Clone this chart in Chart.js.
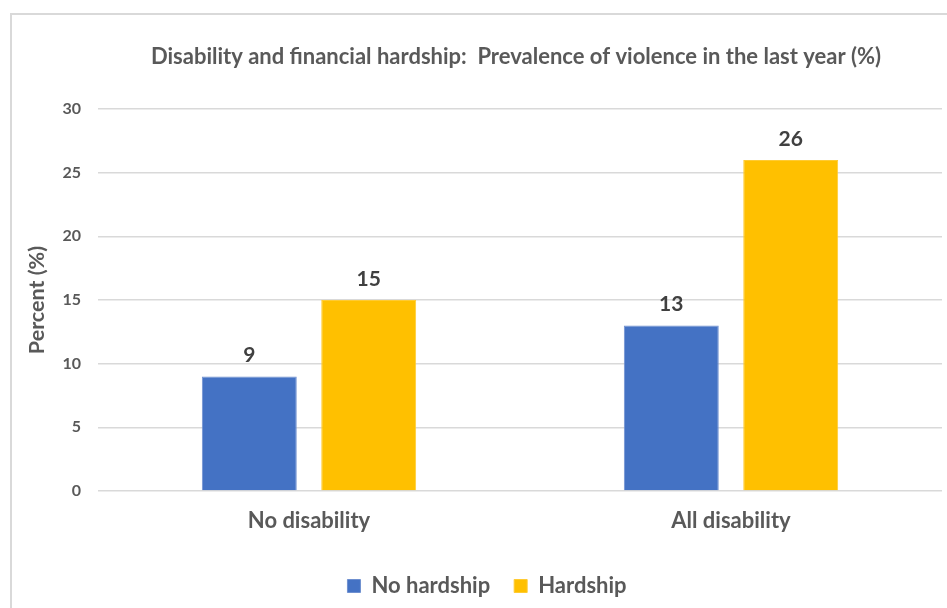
<!DOCTYPE html>
<html>
<head>
<meta charset="utf-8">
<script src="https://cdn.jsdelivr.net/npm/chart.js@4.4.1/dist/chart.umd.min.js"></script>
<style>
  html, body { margin: 0; padding: 0; background: #fff; overflow: hidden; }
  #wrap { position: relative; width: 947px; height: 608px; }
  #frame { position: absolute; left: 10px; top: 13px; width: 1000px; height: 700px;
           border-left: 2px solid #d9d9d9; border-top: 2px solid #d9d9d9; box-sizing: border-box; }
  canvas { position: absolute; left: 0; top: 0; }
</style>
</head>
<body>
<div id="wrap">
  <div id="frame"></div>
  <canvas id="c" width="947" height="608"></canvas>
</div>
<script>
const categories = ["No disability", "All disability"];
const noHardship = [9, 13];
const hardship = [15, 26];
const seriesNames = ["No hardship", "Hardship"];
const chartTitle = "Disability and financial hardship:  Prevalence of violence in the last year (%)";
const yAxisTitle = "Percent (%)";

const FONT = "Lato, 'Open Sans', sans-serif";

const shiftPlugin = {
  id: 'shiftBoxes',
  afterLayout(chart) {
    if (chart.titleBlock) { chart.titleBlock.left += 45; chart.titleBlock.right += 45; }
    if (chart.legend) { chart.legend.left += 16; chart.legend.right += 16; }
  }
};

const valueLabels = {
  id: 'valueLabels',
  afterDatasetsDraw(chart) {
    const ctx = chart.ctx;
    ctx.save();
    ctx.font = "bold 21px " + FONT;
    ctx.fillStyle = "#404040";
    ctx.textAlign = "center";
    ctx.textBaseline = "middle";
    chart.data.datasets.forEach((ds, di) => {
      chart.getDatasetMeta(di).data.forEach((bar, i) => {
        ctx.fillText(String(ds.data[i]), bar.x, bar.y - 21);
      });
    });
    ctx.restore();
  }
};

new Chart(document.getElementById('c'), {
  type: 'bar',
  data: {
    labels: categories,
    datasets: [
      { label: seriesNames[0], data: noHardship, backgroundColor: '#4472C4', borderColor: '#6f90d0', borderWidth: 1,
        categoryPercentage: 0.566, barPercentage: 0.795 },
      { label: seriesNames[1], data: hardship, backgroundColor: '#FFC000', borderColor: '#ffcb33', borderWidth: 1,
        categoryPercentage: 0.566, barPercentage: 0.795 }
    ]
  },
  options: {
    responsive: false,
    animation: false,
    devicePixelRatio: 1,
    layout: { padding: { left: 0, right: 5, top: 0, bottom: 1 } },
    plugins: {
      title: {
        display: true,
        text: chartTitle,
        color: '#595959',
        font: { family: FONT, size: 22, weight: 'bold', lineHeight: 1.2 },
        padding: { top: 44, bottom: 38.6 }
      },
      legend: {
        display: true,
        position: 'bottom',
        labels: {
          color: '#595959',
          font: { family: FONT, size: 22, weight: 'bold' },
          boxWidth: 13, boxHeight: 13, padding: 24
        }
      },
      tooltip: { enabled: false }
    },
    scales: {
      x: {
        grid: { display: false, drawTicks: false },
        border: { display: false },
        ticks: { color: '#595959', font: { family: FONT, size: 22, weight: 'bold' }, padding: 16.5 },
        afterFit(scale) { scale.height = 60; }
      },
      y: {
        min: 0, max: 30,
        grid: { color: '#d9d9d9', lineWidth: 1.5, drawTicks: false },
        border: { display: false },
        ticks: { stepSize: 5, color: '#595959', font: { family: FONT, size: 16, weight: 'bold' }, padding: 17 },
        title: {
          display: true, text: yAxisTitle, color: '#595959',
          font: { family: FONT, size: 21.5, weight: 'bold', lineHeight: 1.2 },
          padding: { top: 24, bottom: 0 }
        },
        afterFit(scale) { scale.width = 98; }
      }
    }
  },
  plugins: [shiftPlugin, valueLabels]
});
</script>
</body>
</html>
